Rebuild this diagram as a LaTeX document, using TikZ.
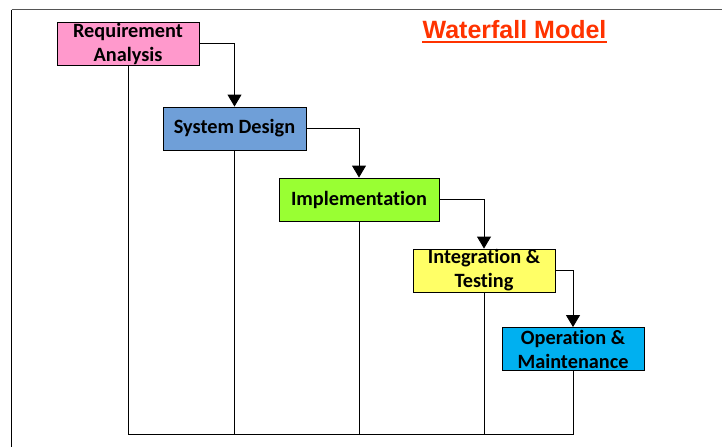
\documentclass[tikz,border=0pt]{standalone}
\usepackage{fontspec}
\setmainfont{Carlito}[Ligatures=CommonOff]
\newfontfamily\titlefont{Liberation Sans}
\usetikzlibrary{arrows.meta}
\definecolor{cpink}{HTML}{FF99CC}
\definecolor{cblue}{HTML}{6F9FD8}
\definecolor{cgreen}{HTML}{99FF33}
\definecolor{cyellow}{HTML}{FFFF66}
\definecolor{ccyan}{HTML}{00B0F0}
\definecolor{titlered}{HTML}{FF3300}
\definecolor{framegray}{HTML}{555555}
\tikzset{
  phase/.style={draw=black, line width=0.9pt, minimum height=43pt, inner sep=0pt,
    align=center, font=\fontsize{20.3}{24}\selectfont\bfseries},
  flow/.style={draw=black, line width=0.9pt, -{Triangle[width=14pt,length=12pt]}},
  link/.style={draw=black, line width=0.9pt},
}
\begin{document}
\begin{tikzpicture}[x=1pt,y=-1pt]
\useasboundingbox (0,0) rectangle (722,447);
% frame
\coordinate (ftl) at (11.5,9.5);
\coordinate (ftr) at (722,9.5);
\coordinate (fbl) at (11.5,447);
\draw[framegray, line width=1.4pt] (ftl) -- (ftr);
\draw[black, line width=1pt] (ftl) -- (fbl);
% title
\node[anchor=base, inner sep=0pt, text=titlered, font=\titlefont\fontsize{25}{30}\selectfont\bfseries] (title) at (514.5,38.5) {Waterfall Model};
\draw[titlered, line width=2pt] ([yshift=-3.5pt]title.base west) -- ([yshift=-3.5pt]title.base east);
% phases
\node[phase, fill=cpink, minimum width=142pt] (req) at (128,43.5) {Requirement\\Analysis};
\node[phase, fill=cblue, minimum width=143pt] (sys) at (234.5,128.5) {System Design};
\node[phase, fill=cgreen, minimum width=160pt] (impl) at (359,199.5) {Implementation};
\node[phase, fill=cyellow, minimum width=142pt] (integ) at (484,270.5) {Integration \&\\Testing};
\node[phase, fill=ccyan, minimum width=142pt] (oper) at (573,349) {Operation \&\\Maintenance};
% forward flow
\draw[flow] (req.east) -| (sys.north);
\draw[flow] (sys.east) -| (impl.north);
\draw[flow] (impl.east) -| (integ.north);
\draw[flow] (integ.east) -| (oper.north);
% feedback base
\coordinate (base) at (0,434);
\draw[link] (req.south) -- (req.south |- base) -- (oper.south |- base) -- (oper.south);
\draw[link] (sys.south) -- (sys.south |- base);
\draw[link] (impl.south) -- (impl.south |- base);
\draw[link] (integ.south) -- (integ.south |- base);
\end{tikzpicture}
\end{document}
